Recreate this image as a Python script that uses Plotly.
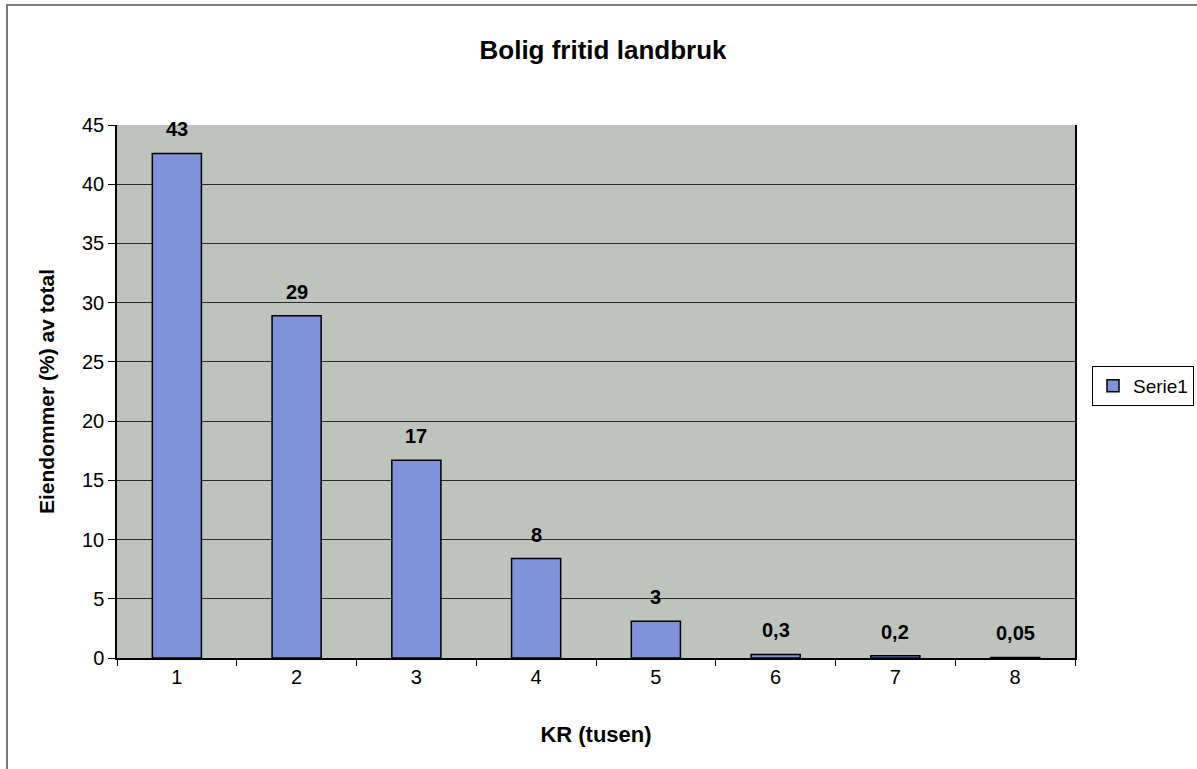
import plotly.graph_objects as go

categories = ["1", "2", "3", "4", "5", "6", "7", "8"]
values = [42.6, 28.9, 16.7, 8.4, 3.1, 0.3, 0.2, 0.05]
labels = ["43", "29", "17", "8", "3", "0,3", "0,2", "0,05"]
y_ticks = [0, 5, 10, 15, 20, 25, 30, 35, 40, 45]

FONT = "Liberation Sans, Arial, sans-serif"

fig = go.Figure()
fig.add_trace(go.Bar(
    x=categories, y=values, name="Serie1",
    marker=dict(color="#7f93da", line=dict(color="#000000", width=1.5)),
    width=0.41,
))

for i, (v, t) in enumerate(zip(values, labels)):
    fig.add_annotation(x=i, y=v, text="<b>" + t + "</b>", showarrow=False, yanchor="bottom",
                       yshift=11, font=dict(family=FONT, size=20, color="#000000"))

L, R, T, B = 117, 1075, 125, 658
W, H = 1197, 769
pw, ph = R - L, B - T

fig.add_shape(type="rect", xref="paper", yref="paper",
              x0=(7 - L) / pw, x1=(1215 - L) / pw,
              y0=(B - 785) / ph, y1=(B - 5) / ph,
              line=dict(color="#7a7a7a", width=2), fillcolor="rgba(0,0,0,0)", layer="below")

fig.update_layout(
    width=W, height=H,
    margin=dict(l=L, r=W - R, t=T, b=H - B, pad=0, autoexpand=False),
    paper_bgcolor="#ffffff",
    plot_bgcolor="#bec3be",
    font=dict(family=FONT, color="#000000"),
    title=dict(text="<b>Bolig fritid landbruk</b>", x=603 / W, xanchor="center",
               y=1 - 50 / H, yanchor="middle", font=dict(size=26, family=FONT)),
    showlegend=True,
    legend=dict(xref="container", yref="container", x=1092 / W, xanchor="left",
                y=1 - 386 / H, yanchor="middle",
                bordercolor="#000000", borderwidth=1, bgcolor="#ffffff",
                font=dict(size=19, family=FONT), itemwidth=30),
)

fig.update_xaxes(
    type="category", range=[-0.5, 7.5],
    tickson="boundaries", ticks="outside", ticklen=6, tickcolor="#000000",
    showline=True, linecolor="#000000", linewidth=1.5,
    showgrid=False,
    tickfont=dict(size=20, family=FONT),
    title=dict(text="<b>KR (tusen)</b>", font=dict(size=22, family=FONT), standoff=40),
)
fig.update_yaxes(
    range=[0, 45], tickvals=y_ticks,
    ticks="outside", ticklen=7, tickcolor="#000000",
    showline=True, linecolor="#000000", linewidth=1.5, mirror=True,
    showgrid=True, gridcolor="#2a2a2a", gridwidth=1,
    zeroline=False,
    tickfont=dict(size=20, family=FONT),
    title=dict(text="<b>Eiendommer (%) av total</b>", font=dict(size=21, family=FONT), standoff=22),
)

fig.write_html("out.html", config={"displayModeBar": False},
               post_script="document.body.style.margin='0';document.body.style.overflow='hidden';")
